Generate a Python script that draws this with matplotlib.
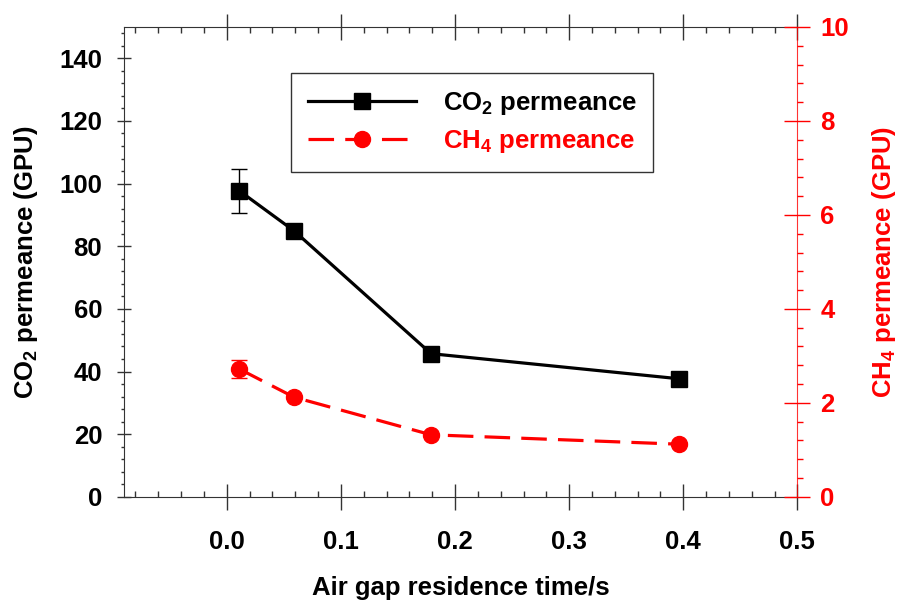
import matplotlib
matplotlib.use("Agg")
import matplotlib.pyplot as plt
from matplotlib.ticker import MultipleLocator
from matplotlib.lines import Line2D

plt.rcParams['font.family'] = ['Liberation Sans', 'DejaVu Sans']
plt.rcParams['font.weight'] = 'bold'
plt.rcParams['mathtext.fontset'] = 'custom'
plt.rcParams['mathtext.rm'] = 'Liberation Sans:bold'
plt.rcParams['mathtext.bf'] = 'Liberation Sans:bold'
plt.rcParams['mathtext.it'] = 'Liberation Sans:bold'

# data
residence_time = [0.011, 0.059, 0.179, 0.396]
co2_perm = [97.7, 84.9, 45.7, 37.7]
co2_err = [7.0, 0, 0, 0]
ch4_perm = [2.72, 2.12, 1.32, 1.12]
ch4_err = [0.2, 0, 0, 0]

red = '#ff0000'
fs = 18.5
dash = (8, 3.5)

fig = plt.figure(figsize=(8.99, 6.0), dpi=100)
ax = fig.add_axes([0.138, 0.172, 0.749, 0.783])
ax2 = ax.twinx()

ax.errorbar(residence_time, co2_perm, yerr=co2_err, color='black', lw=2.3,
            marker='s', ms=11.5, elinewidth=1, ecolor='black', capsize=6, capthick=1,
            zorder=3)
ax2.plot(residence_time, ch4_perm, color=red, lw=2.3, marker='o', ms=11.5,
         dashes=dash, zorder=3)
ax2.errorbar(residence_time, ch4_perm, yerr=ch4_err, fmt='none', ecolor=red,
             elinewidth=1, capsize=6, capthick=1)

ax.set_xlim(-0.09, 0.5)
ax.set_ylim(0, 150)
ax2.set_ylim(0, 10)

ax.xaxis.set_minor_locator(MultipleLocator(0.02))
ax.set_xticks([0.0, 0.1, 0.2, 0.3, 0.4, 0.5])
ax.set_xticklabels(['0.0', '0.1', '0.2', '0.3', '0.4', '0.5'])
ax.yaxis.set_minor_locator(MultipleLocator(4))
ax.set_yticks([0, 20, 40, 60, 80, 100, 120, 140])
ax2.yaxis.set_major_locator(MultipleLocator(2))
ax2.yaxis.set_minor_locator(MultipleLocator(0.4))

ax.tick_params(axis='x', which='major', direction='inout', length=19, width=1,
               top=True, bottom=True, labelsize=fs, pad=14.5, color='#333333')
ax.tick_params(axis='x', which='minor', direction='in', length=4.5, width=1,
               top=True, bottom=True, color='#333333')
ax.tick_params(axis='y', which='major', direction='inout', length=9.5, width=1,
               labelsize=fs, pad=11, color='#333333')
ax.tick_params(axis='y', which='minor', direction='out', length=2.5, width=1, color='#333333')
ax2.tick_params(axis='y', which='major', direction='inout', length=19, width=1,
                labelsize=fs, colors=red, pad=7)
ax2.tick_params(axis='y', which='minor', direction='out', length=4.5, width=1, colors=red)

for s in ['left', 'top', 'bottom']:
    ax.spines[s].set_color('#333333')
ax2.spines['right'].set_color(red)
ax2.spines['right'].set_alpha(0.8)
ax.spines['right'].set_visible(False)
for s in ['left', 'top', 'bottom']:
    ax2.spines[s].set_visible(False)

ax.set_xlabel('Air gap residence time/s', fontsize=fs, fontweight='bold', labelpad=16)
ax.set_ylabel('CO$_2$ permeance (GPU)', fontsize=fs, fontweight='bold', labelpad=14)
ax2.set_ylabel('CH$_4$ permeance (GPU)', fontsize=fs, fontweight='bold', color=red, labelpad=15)

h1 = Line2D([], [], color='black', lw=2.3, marker='s', ms=11.5)
h2 = Line2D([], [], color=red, lw=2.3, marker='o', ms=11.5, dashes=dash)
leg = fig.legend([h1, h2], ['CO$_2$ permeance', 'CH$_4$ permeance'],
                 loc='upper left', bbox_to_anchor=(0.3237, 0.878), borderaxespad=0,
                 fontsize=fs, handlelength=4.2, fancybox=False, framealpha=1,
                 edgecolor='#333333', borderpad=0.65, labelspacing=0.45,
                 handletextpad=1.05)
leg.get_frame().set_linewidth(1)
leg.get_texts()[1].set_color(red)

fig.savefig('out.png', dpi=100)
